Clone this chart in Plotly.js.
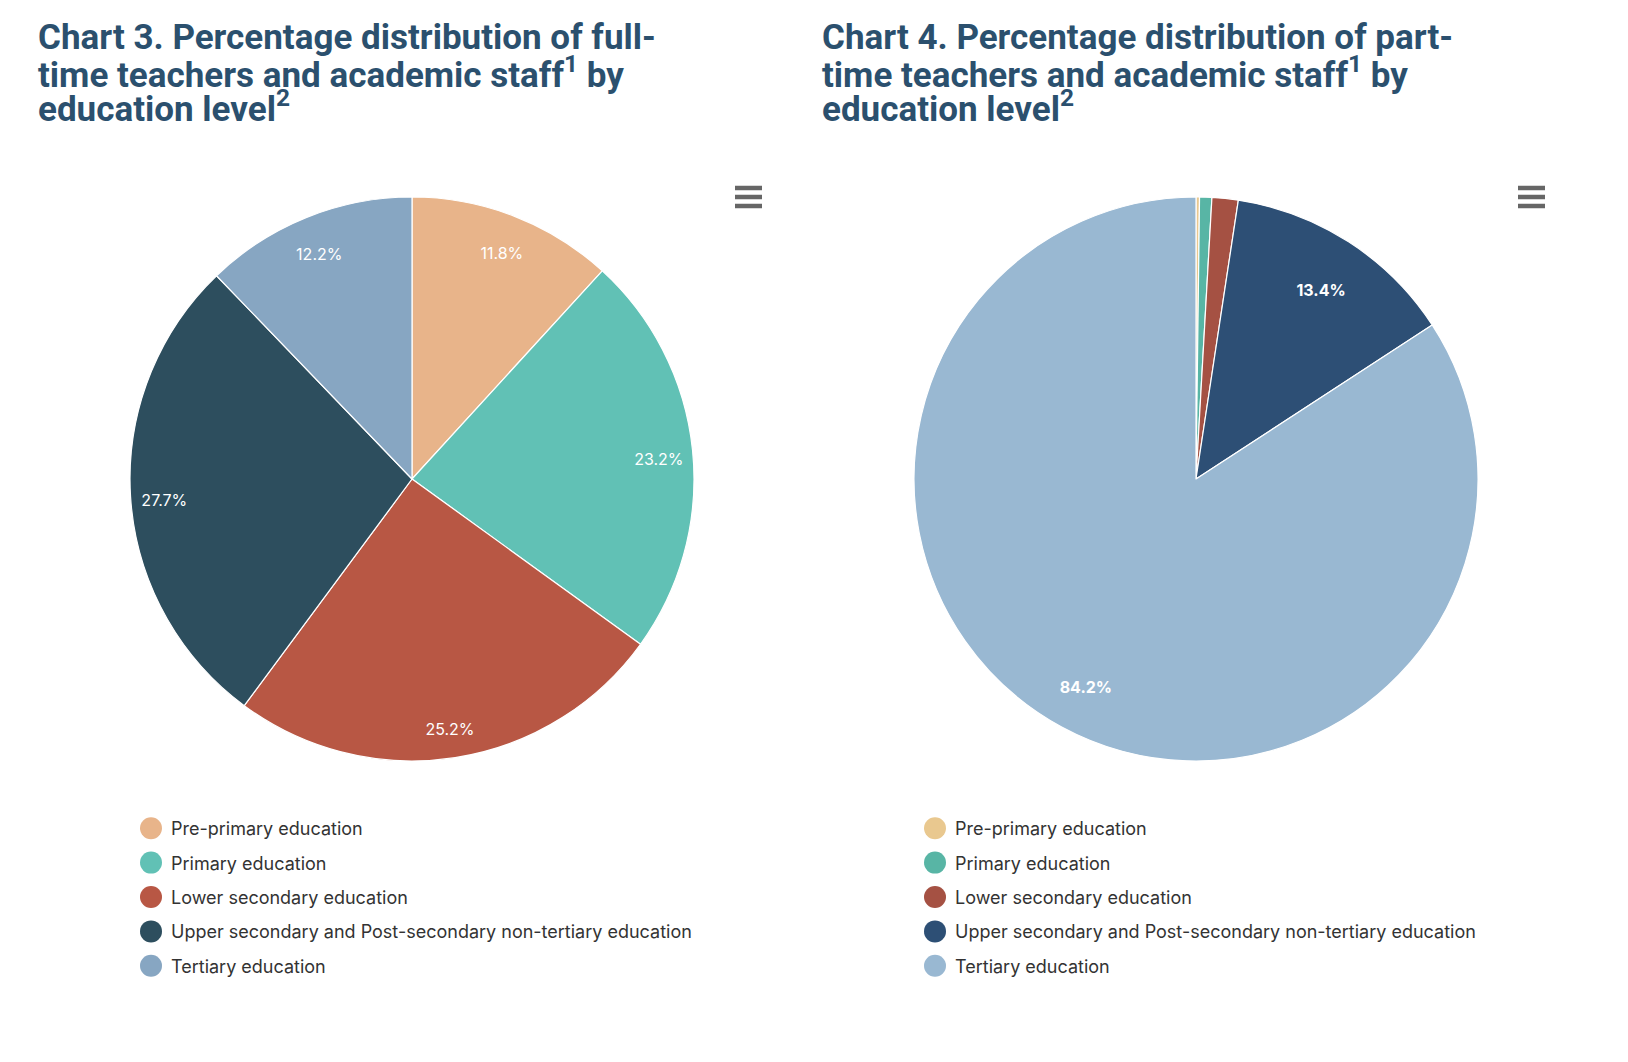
<!DOCTYPE html>
<html>
<head>
<meta charset="utf-8">
<script src="https://cdn.plot.ly/plotly-3.0.1.min.js"></script>
<style>
  html, body { margin: 0; padding: 0; background: #fff; }
  #chart { width: 1628px; height: 1062px; }
</style>
</head>
<body>
<div id="chart"></div>
<script>
  const categories = [
    'Pre-primary education',
    'Primary education',
    'Lower secondary education',
    'Upper secondary and Post-secondary non-tertiary education',
    'Tertiary education'
  ];

  // Chart 3 - full-time staff (%)
  const fullTimeValues = [11.8, 23.2, 25.2, 27.7, 12.2];
  // Chart 4 - part-time staff (%)
  const partTimeValues = [0.2, 0.7, 1.5, 13.4, 84.2];

  const fullTimeColors = ['#e8b48a', '#61c1b5', '#b85744', '#2d4e5e', '#87a6c2'];
  const partTimeColors = ['#e9c88f', '#58b5a5', '#a55143', '#2d4f75', '#99b8d2'];

  const fullTimeTitle = [
    'Chart 3. Percentage distribution of full-',
    'time teachers and academic staff<sup>1</sup> by',
    'education level<sup>2</sup>'
  ];
  const partTimeTitle = [
    'Chart 4. Percentage distribution of part-',
    'time teachers and academic staff<sup>1</sup> by',
    'education level<sup>2</sup>'
  ];

  const W = 1628, H = 1062;
  const px = v => v / W;
  const py = v => 1 - v / H;

  const titleColor = '#2b506e';
  const labelFont = 'Inter, "Noto Sans", sans-serif';

  function pieTraces(values, colors, dom, hole, boldLabels) {
    const domain = { x: [px(dom[0]), px(dom[1])], y: [py(dom[3]), py(dom[2])] };
    // labels sit a few px lower than the ring centre, like highcharts does
    const labelDomain = { x: domain.x, y: [py(dom[3] + 5), py(dom[2] + 5)] };
    const base = {
      type: 'pie',
      labels: categories,
      values: values,
      sort: false,
      direction: 'clockwise',
      rotation: 0,
      showlegend: false
    };
    const main = Object.assign({}, base, {
      domain: domain,
      marker: { colors: colors, line: { color: '#ffffff', width: 1.2 } },
      textinfo: 'none',
      hoverinfo: 'label+percent'
    });
    // transparent ring on top, only used to put the labels near the edge
    const labels = Object.assign({}, base, {
      domain: labelDomain,
      hole: hole,
      marker: { colors: colors.map(() => 'rgba(0,0,0,0)'), line: { width: 0 } },
      texttemplate: '%{value:.1f}%',
      textposition: values.map(v => v < 5 ? 'none' : 'inside'),
      insidetextorientation: 'horizontal',
      textfont: { family: labelFont, size: 16, color: '#ffffff', weight: boldLabels ? 'bold' : 'normal' },
      hoverinfo: 'skip'
    });
    return [main, labels];
  }

  function legendTraces(colors, legendId) {
    return categories.map((name, i) => ({
      type: 'scatter',
      mode: 'markers',
      x: [null],
      y: [null],
      name: name,
      legend: legendId,
      legendgroup: legendId + '-' + i,
      marker: { color: colors[i], size: 16 },
      hoverinfo: 'skip'
    }));
  }

  function titleAnnotations(lines, left) {
    const baselines = [49, 84, 118];
    return lines.map((t, i) => ({
      xref: 'paper', yref: 'paper',
      x: px(left), y: py(baselines[i] - 12),
      xanchor: 'left', yanchor: 'middle',
      text: t, showarrow: false,
      font: { family: 'Roboto, sans-serif', size: 35, weight: 700, color: titleColor }
    }));
  }

  function menuIcon(left) {
    return [188, 197, 206].map(y => ({
      type: 'line', xref: 'paper', yref: 'paper',
      x0: px(left), x1: px(left + 27), y0: py(y), y1: py(y),
      line: { color: '#666666', width: 4.5 }
    }));
  }

  const legendStyle = {
    font: { family: labelFont, size: 18, color: '#333333' },
    bgcolor: 'rgba(0,0,0,0)',
    tracegroupgap: 8,
    traceorder: 'grouped',
    xanchor: 'left',
    yanchor: 'top'
  };

  const data = [].concat(
    pieTraces(fullTimeValues, fullTimeColors, [130, 694, 197, 761], 0.76, false),
    pieTraces(partTimeValues, partTimeColors, [914, 1478, 197, 761], 0.64, true),
    legendTraces(fullTimeColors, 'legend'),
    legendTraces(partTimeColors, 'legend2')
  );

  const layout = {
    width: W,
    height: H,
    margin: { l: 0, r: 0, t: 0, b: 0 },
    paper_bgcolor: '#ffffff',
    plot_bgcolor: '#ffffff',
    xaxis: { visible: false },
    yaxis: { visible: false },
    legend: Object.assign({ x: px(131), y: py(810) }, legendStyle),
    legend2: Object.assign({ x: px(915), y: py(810) }, legendStyle),
    annotations: titleAnnotations(fullTimeTitle, 36).concat(titleAnnotations(partTimeTitle, 820)),
    shapes: menuIcon(735).concat(menuIcon(1518))
  };

  Plotly.newPlot('chart', data, layout, { displayModeBar: false }).then(() => {
    // Highcharts-style round legend markers are a bit bigger than plotly allows
    document.querySelectorAll('g.legendpoints path.scatterpts').forEach(p => {
      p.setAttribute('d', 'M11,0A11,11 0 1,1 0,-11A11,11 0 0,1 11,0Z');
    });
  });
</script>
</body>
</html>
